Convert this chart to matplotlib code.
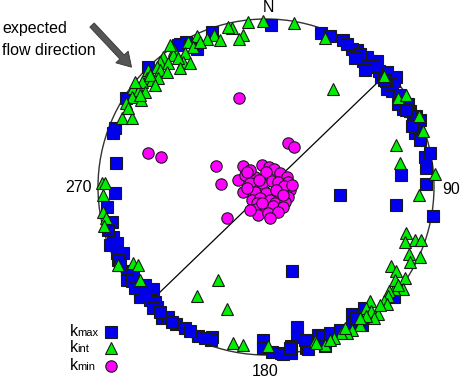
import matplotlib
matplotlib.use("Agg")
import matplotlib.pyplot as plt
from matplotlib.patches import Circle, FancyArrow

plt.rcParams['font.family'] = ['Liberation Sans', 'DejaVu Sans']

# Net coordinates: origin at centre of the primitive circle, radius = NET_R
NET_R = 168

kmax_x = [5, -54, -86, -80, -69, -88, -118, -140, -151, -153, -150, -151, -159, -154,
          -153, -156, -149, -149, -143, -148, -139, -133, -139, -134, -126, -126, -113,
          -116, -111, -109, -113, -104, -98, -90, -81, -68, -54, -55, -3, -3, 6, 15, 25,
          31, 31, 25, 40, 52, 42, 56, 64, 59, 86, 86, 96, 98, 128, 167, 130, 26, 74, 135,
          160, 160, 159, 164, 149, 152, 154, 147, 150, 144, 137, 142, 135, 132, 126, 121,
          128, 130, 125, 120, 115, 121, 113, 110, 102, 111, 105, 97, 101, 91, 86, 77, 55,
          17, 24,
          64, 81, 94, 107, 118, 134, 140, 146, 154, 99, 89,
          -158, -146, -131, -121, -106, -94, -76, -61, -121,
          39, 74, 90]
kmax_y = [162, 155, 143, 145, 138, 142, 120, 89, 59, 54, 24, -6, -20, -35,
          -50, -58, -56, -66, -66, -73, -84, -86, -93, -94, -103, -110, -102,
          -113, -115, -120, -121, -131, -130, -137, -141, -149, -150, -153, -153, -161, -165, -166, -166,
          -140, -150, -159, -161, -148, -162, -149, -146, -159, -127, -135, -138, -121, -110, -29, -18, -84, -8, 12,
          3, 19, 30, 34, 54, 61, 67, 67, 71, 76, 78, 83, 86, 83, 96, 98,
          106, 110, 103, 106, 110, 115, 116, 120, 121, 126, 126, 126, 130, 137, 138, 147, 154,
          -167, -161,
          151, 143, 133, 121, 107, 92, 77, 61, 47, 117, 129,
          -43, -78, -101, -108, -125, -135, -144, -151, -98,
          -153, -143, -131]

kint_x = [-3, 28, -18, -34, -38, -23, -27, -52, -59, -69, -78, -73, -92, -81, -83, -76,
          -93, -103, -106, -98, -109, -118, -106, -99, -119, -114, -108, -124, -129, -133,
          -127, -121, -134, -125, -140, -144, -134, -164, -161, -163, -163, -160, -162,
          -148, -133, -128, -126, -48, -69, -39, -33, -23, 2, 49, 67, 130, 134, 59, 118,
          132, 140, 153, 157, 169, 153, 140, 139, 149, 155, 143, 154, 125, 130, 139, 137,
          128, 123, 122, 118, 121, 104, 100, 105, 112, 108, 100, 94, 86, 81, 75, 68, 59, 50,
          -66, -88, -116, -126, -96, -46, -111, -138, -131, -86,
          129, 114, 94, 79, 144, 132, 64]
kint_y = [166, 164, 165, 159, 160, 152, 148, 152, 148, 151, 145, 140, 137, 134, 125, 124,
          132, 130, 125, 124, 120, 117, 117, 115, 109, 107, 109, 105, 100, 99,
          97, 95, 90, 87, 84, 69, 69, 4, 4, -8, -25, -31, -39,
          -78, -76, -78, -93, -93, -109, -122, -156, -158, -159, -154, 98, 42, 24, 149, 111,
          89, 92, 71, 56, 13, -8, -46, -55, -53, -53, -67, -70, -79, -84, -91, -102,
          -102, -104, -109, -114, -117, -114, -121, -124, -127, -131, -129, -138, -143, -146, -146, -151, -158, -156,
          145, 129, 112, 92, 142, 147, 102, 79, 105, 119,
          -93, -118, -131, -141, -75, -98, -153]

kmin_x = [-118, -105, -50, -45, -39, -27, 22, 28,
          -23, -4, 3, 8, -28, -21, -11, 0, 14, 21, -14, -4, 6, 12, 22, -16, -23, -11, 0,
          16, 24, -14, -6, 4, 14, 22, -9, 9, 19, -10, -1, 7, 17, -8, 2, 12, 4, -16, 18,
          26, -19, 10, -19, -7, 17, -4, -16]
kmin_y = [34, 30, 21, 3, -31, 89, 44, 40,
          21, 22, 20, 18, 7, 12, 10, 15, 14, 10, 2, 4, 6, 5, 5, 4, -5, -5, -6,
          -4, -3, -13, -11, -13, -11, -10, -16, -16, -15, -22, -21, -19, -20, -28, -26, -25, -31, 17, 1,
          2, -1, -3, 15, 7, -8, -16, -23]

# great-circle trace (vertical plane)
trace_x = [-109, 112]
trace_y = [-108, 105]

dir_labels = ["N", "90", "180", "270"]

fig = plt.figure(figsize=(4.62, 3.79), dpi=100)
ax = fig.add_axes([0, 0, 1, 1])
ax.set_xlim(-266, 196)
ax.set_ylim(-192, 187)
ax.axis('off')

ax.add_patch(Circle((0, 0), NET_R, fill=False, edgecolor='#333333', lw=1.0, zorder=1))
ax.plot(trace_x, trace_y, color='black', lw=0.9, zorder=2)

SQ, TR, CI = 8.2, 8.8, 8.2
mk = dict(linestyle='none', markeredgecolor='#1a1a1a', markeredgewidth=0.8)
ax.plot(kmax_x, kmax_y, marker='s', color='#0000ee', markersize=SQ, zorder=3, **mk)
ax.plot(kint_x, kint_y, marker='^', color='#00ee00', markersize=TR, zorder=4, **mk)
ax.plot(kmin_x, kmin_y, marker='o', color='#ff00ff', markersize=CI, zorder=5, **mk)

# direction labels
ax.text(2, 179, dir_labels[0], ha='center', va='center', fontsize=11.5)
ax.text(185, -2, dir_labels[1], ha='center', va='center', fontsize=11.5)
ax.text(-1, -185, dir_labels[2], ha='center', va='center', fontsize=11.5)
ax.text(-188, -1, dir_labels[3], ha='center', va='center', fontsize=11.5)

# annotation
ax.text(-264, 154, "expected", ha='left', va='baseline', fontsize=11.5)
ax.text(-264, 132, "flow direction", ha='left', va='baseline', fontsize=11.5)
ax.add_patch(FancyArrow(-174, 162, 30, -32, width=6, head_width=17, head_length=14,
                        length_includes_head=False, facecolor='#555555',
                        edgecolor='#333333', lw=0.6, zorder=3))

# legend
leg = [("max", 's', '#0000ee', SQ, -149),
       ("int", '^', '#00ee00', TR, -165),
       ("min", 'o', '#ff00ff', CI, -183)]
for sub, m, c, ms, yb in leg:
    ax.text(-196, yb, "k", ha='left', va='baseline', fontsize=11.5)
    ax.text(-189, yb, sub, ha='left', va='baseline', fontsize=8)
    ax.plot([-155], [yb + 4], marker=m, color=c, markersize=ms, **mk)

fig.savefig("out.png", dpi=100)
